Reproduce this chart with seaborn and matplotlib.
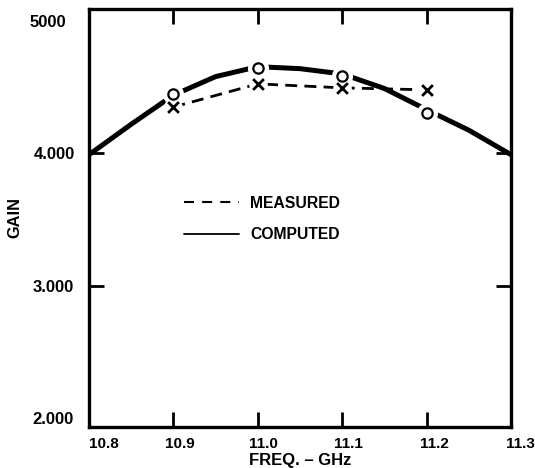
import matplotlib
matplotlib.use("Agg")
import matplotlib.pyplot as plt
from matplotlib.lines import Line2D
from matplotlib.transforms import ScaledTranslation
import seaborn as sns
import pandas as pd

# ---- data ----
freq_curve = [10.8, 10.85, 10.9, 10.95, 11.0, 11.05, 11.1, 11.15, 11.2, 11.25, 11.3]
gain_computed_curve = [3990, 4220, 4440, 4580, 4655, 4640, 4600, 4490, 4330, 4175, 3990]

freq_points = [10.9, 11.0, 11.1, 11.2]
gain_computed_points = [4450, 4645, 4585, 4305]
gain_measured_points = [4350, 4525, 4495, 4480]

x_ticks = [10.8, 10.9, 11.0, 11.1, 11.2, 11.3]
x_tick_labels = ["10.8", "10.9", "11.0", "11.1", "11.2", "11.3"]
y_ticks = [2000, 3000, 4000, 5000]
y_tick_labels = ["2.000", "3.000", "4.000", "5000"]

legend_labels = ["MEASURED", "COMPUTED"]

sns.set_style("ticks")
plt.rcParams["font.family"] = ["Liberation Sans", "DejaVu Sans"]
plt.rcParams["font.weight"] = "bold"
for k in ["text.color", "axes.labelcolor", "xtick.color", "ytick.color",
          "axes.edgecolor"]:
    plt.rcParams[k] = "black"

fig = plt.figure(figsize=(5.35, 4.68), dpi=100)
ax = fig.add_axes([0.1664, 0.0876, 0.7888, 0.8932])

curve_df = pd.DataFrame({"freq": freq_curve, "gain": gain_computed_curve})
pts_df = pd.DataFrame({"freq": freq_points,
                       "computed": gain_computed_points,
                       "measured": gain_measured_points})

sns.lineplot(data=curve_df, x="freq", y="gain", ax=ax, color="black",
             linewidth=3.6, solid_capstyle="butt", zorder=2)
sns.lineplot(data=pts_df, x="freq", y="measured", ax=ax, color="black",
             linewidth=2.0, zorder=2)
ax.lines[-1].set_dashes((4.3, 2.6))

# white halos to create gaps around markers
sns.scatterplot(data=pts_df, x="freq", y="computed", ax=ax, s=230,
                color="white", linewidth=0, zorder=3)
sns.scatterplot(data=pts_df, x="freq", y="measured", ax=ax, s=180,
                color="white", linewidth=0, zorder=3)
# markers
sns.scatterplot(data=pts_df, x="freq", y="computed", ax=ax, s=55,
                marker="o", facecolor="white", edgecolor="black",
                linewidth=1.6, zorder=4)
sns.scatterplot(data=pts_df, x="freq", y="measured", ax=ax, s=60,
                marker="x", color="black", linewidth=2.0, zorder=4)

ax.set_xlim(10.8, 11.3)
ax.set_ylim(1932, 5091)
ax.set_xticks(x_ticks)
ax.set_xticklabels(x_tick_labels)
ax.set_yticks(y_ticks)
ax.set_yticklabels(y_tick_labels)
ax.tick_params(direction="in", length=11, width=2, top=True, right=True)
ax.tick_params(axis="x", labelsize=11, pad=7)
ax.tick_params(axis="y", labelsize=12, pad=11)
for lab in ax.get_xticklabels() + ax.get_yticklabels():
    lab.set_fontweight("bold")

# hide the corner y tick marks (not visible in the reference)
for val, tick in zip(y_ticks, ax.yaxis.get_major_ticks()):
    if val in (2000, 5000):
        tick.tick1line.set_visible(False)
        tick.tick2line.set_visible(False)

# small horizontal offsets of tick labels as in the hand-lettered original
x_offsets_px = [15, 6, 6, 6, 8, 9]
for lab, dx in zip(ax.get_xticklabels(), x_offsets_px):
    lab.set_transform(lab.get_transform() +
                      ScaledTranslation(dx / 100, 0, fig.dpi_scale_trans))
y_offsets_px = [0, 0, 1, -8]
for lab, dx in zip(ax.get_yticklabels(), y_offsets_px):
    lab.set_transform(lab.get_transform() +
                      ScaledTranslation(dx / 100, 0, fig.dpi_scale_trans))

for sp in ax.spines.values():
    sp.set_linewidth(2.4)
    sp.set_color("black")

ax.set_xlabel("FREQ. \u2013 GHz", fontsize=12, fontweight="bold")
ax.xaxis.set_label_coords(0.5, -0.063)
ax.set_ylabel("GAIN", fontsize=11.8, fontweight="bold")
ax.yaxis.set_label_coords(-0.157, 0.5)

handles = [Line2D([], [], color="black", linewidth=1.5, dashes=(4.8, 3.9)),
           Line2D([], [], color="black", linewidth=1.3)]
leg = ax.legend(handles, legend_labels, loc="upper left",
                bbox_to_anchor=(0.225, 0.553), frameon=False, fontsize=11.3,
                handlelength=3.5, handletextpad=0.7, labelspacing=1.05,
                borderpad=0, borderaxespad=0)
for t in leg.get_texts():
    t.set_fontweight("bold")

fig.savefig("out.png", dpi=100)
